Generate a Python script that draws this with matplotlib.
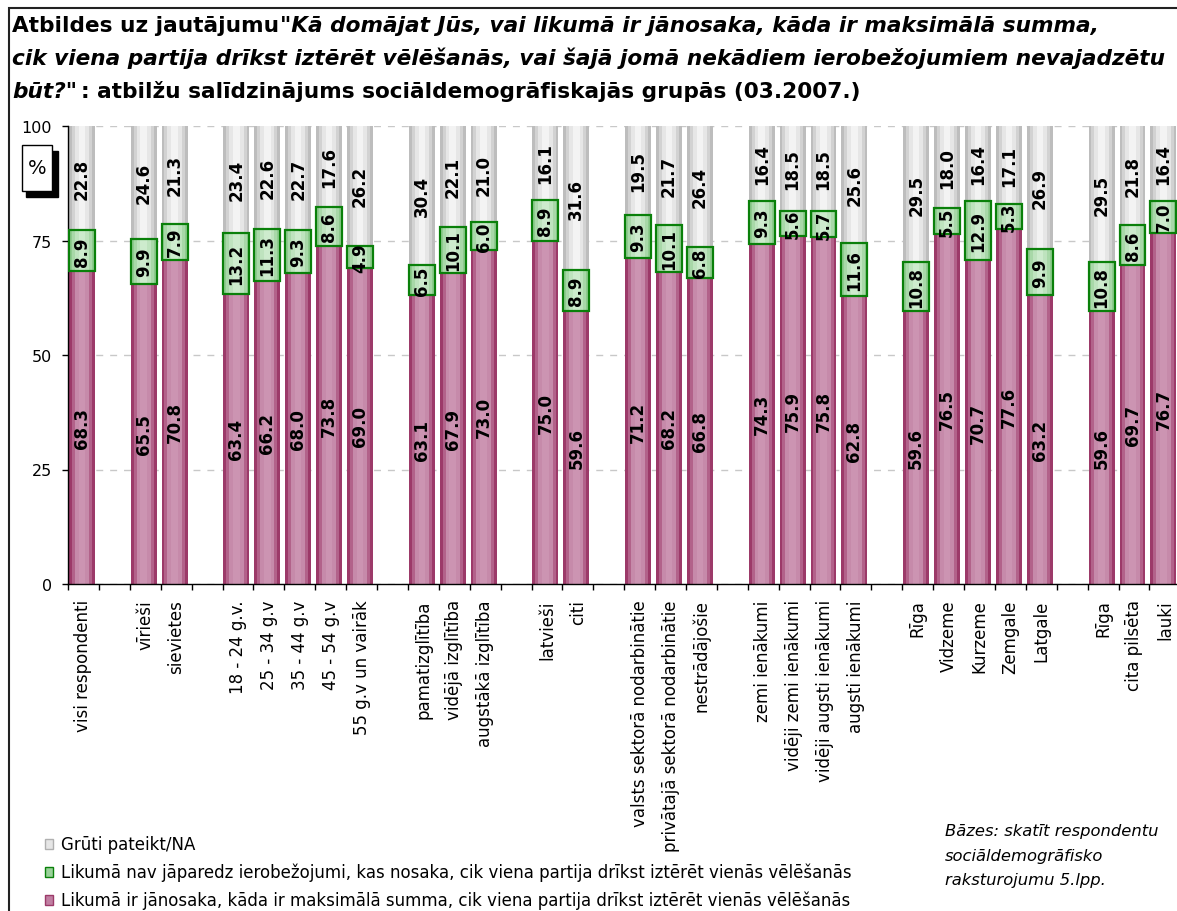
import matplotlib
matplotlib.use("Agg")
import matplotlib.pyplot as plt
from matplotlib.patches import Rectangle
import numpy as np

plt.rcParams['font.family'] = ['DejaVu Sans']

# ---------------- data ----------------
categories = ["visi respondenti",
              "vīrieši", "sievietes",
              "18 - 24 g.v.", "25 - 34 g.v", "35 - 44 g.v", "45 - 54 g.v", "55 g.v un vairāk",
              "pamatizglītība", "vidējā izglītība", "augstākā izglītība",
              "latvieši", "citi",
              "valsts sektorā nodarbinātie", "privātajā sektorā nodarbinātie", "nestrādājošie",
              "zemi ienākumi", "vidēji zemi ienākumi", "vidēji augsti ienākumi", "augsti ienākumi",
              "Rīga", "Vidzeme", "Kurzeme", "Zemgale", "Latgale",
              "Rīga", "cita pilsēta", "lauki"]
group_sizes = [1, 2, 5, 3, 2, 3, 4, 5, 3]

law_limit = [68.3, 65.5, 70.8, 63.4, 66.2, 68.0, 73.8, 69.0, 63.1, 67.9, 73.0, 75.0, 59.6,
             71.2, 68.2, 66.8, 74.3, 75.9, 75.8, 62.8, 59.6, 76.5, 70.7, 77.6, 63.2, 59.6, 69.7, 76.7]
no_limits = [8.9, 9.9, 7.9, 13.2, 11.3, 9.3, 8.6, 4.9, 6.5, 10.1, 6.0, 8.9, 8.9,
             9.3, 10.1, 6.8, 9.3, 5.6, 5.7, 11.6, 10.8, 5.5, 12.9, 5.3, 9.9, 10.8, 8.6, 7.0]
hard_to_say = [22.8, 24.6, 21.3, 23.4, 22.6, 22.7, 17.6, 26.2, 30.4, 22.1, 21.0, 16.1, 31.6,
               19.5, 21.7, 26.4, 16.4, 18.5, 18.5, 25.6, 29.5, 18.0, 16.4, 17.1, 26.9, 29.5, 21.8, 16.4]

series_labels = ["Grūti pateikt/NA",
                 "Likumā nav jāparedz ierobežojumi, kas nosaka, cik viena partija drīkst iztērēt vienās vēlēšanās",
                 "Likumā ir jānosaka, kāda ir maksimālā summa, cik viena partija drīkst iztērēt vienās vēlēšanās"]

title_parts = [
    [("Atbildes uz jautājumu", "normal"),
     ("\"Kā domājat Jūs, vai likumā ir jānosaka, kāda ir maksimālā summa,", "italic")],
    [("cik viena partija drīkst iztērēt vēlēšanās, vai šajā jomā nekādiem ierobežojumiem nevajadzētu", "italic")],
    [("būt?\"", "italic"),
     (": atbilžu salīdzinājums sociāldemogrāfiskajās grupās (03.2007.)", "normal")],
]
note_lines = ["Bāzes: skatīt respondentu", "sociāldemogrāfisko", "raksturojumu 5.lpp."]

# ---------------- layout ----------------
pos = []
slot = 0
for g in group_sizes:
    for _ in range(g):
        pos.append(slot)
        slot += 1
    slot += 1
n_slots = slot - 1
pos = np.array(pos, dtype=float)

law = np.array(law_limit)
nol = np.array(no_limits)
hts = np.array(hard_to_say)

W, H = 1177, 912
fig = plt.figure(figsize=(W / 100, H / 100), dpi=100)
fig.patch.set_facecolor('white')
slot_px = 30.9
ax = fig.add_axes([68 / W, 1 - 585 / H, n_slots * slot_px / W, 458 / H])
ax.set_xlim(-0.5, n_slots - 0.5)
ax.set_ylim(0, 100)

bw = 0.84
xb = pos - 0.05


def shaded(vals, bottom, cols, fracs):
    first = None
    for c, f in zip(cols, fracs):
        b = ax.bar(xb, vals, bw * f, bottom=bottom, color=c, linewidth=0, zorder=2)
        if first is None:
            first = b
    return first


pink = shaded(law, 0, ['#9C3A69', '#B2628A', '#C68AAA', '#CC94B2'], [1.0, 0.78, 0.55, 0.25])
green = shaded(nol, law, ['#8ECB8E', '#A8D8A8', '#BEE3BE', '#CDEBCD'], [1.0, 0.78, 0.55, 0.25])
ax.bar(xb, nol, bw, bottom=law, fill=False, edgecolor='#0A800A', linewidth=1.6, zorder=3)
gray = shaded(hts, law + nol, ['#BDBDBD', '#D2D2D2', '#E6E6E6', '#F3F3F3'], [1.0, 0.78, 0.55, 0.25])

for bars, vals in ((pink, law), (green, nol), (gray, hts)):
    ax.bar_label(bars, labels=[f"{v:.1f}" for v in vals], label_type='center',
                 rotation=90, fontsize=12, fontweight='bold', color='black', zorder=5)

# axes styling
ax.set_yticks([0, 25, 50, 75, 100])
ax.yaxis.grid(True, linestyle=(0, (5, 5)), color='#C8C8C8', linewidth=1)
ax.set_axisbelow(True)
for s in ('top', 'right'):
    ax.spines[s].set_visible(False)
ax.spines['left'].set_linewidth(1.0)
ax.spines['bottom'].set_linewidth(1.0)
ax.tick_params(axis='y', direction='out', length=4.5, width=1, labelsize=11.5, pad=7)
ax.set_xticks(pos)
ax.set_xticklabels(categories, rotation=90, fontsize=12, va='top', ha='center')
ax.tick_params(axis='x', which='major', length=0, pad=11)
ax.set_xticks(np.arange(-0.5, n_slots, 1.0), minor=True)
ax.tick_params(axis='x', which='minor', direction='out', length=4.5, width=1)

# % box
fig.patches.append(Rectangle((26 / W, 1 - 198 / H), 32 / W, 46 / H, transform=fig.transFigure,
                             facecolor='black', edgecolor='black', zorder=5))
fig.patches.append(Rectangle((22 / W, 1 - 192 / H), 30 / W, 46 / H, transform=fig.transFigure,
                             facecolor='white', edgecolor='black', linewidth=1, zorder=6))
fig.text(37 / W, 1 - 168 / H, "%", fontsize=14, ha='center', va='center', zorder=7)

# border
fig.patches.append(Rectangle((9 / W, -0.05), 1.2, 1 - 9 / H + 0.05, transform=fig.transFigure,
                             fill=False, edgecolor='#222222', linewidth=1.5, zorder=10))

# title: fit the long second line to the frame width
renderer = fig.canvas.get_renderer()
probe = fig.text(0, 0, title_parts[1][0][0], fontsize=14, fontweight='bold', style='italic')
pw = probe.get_window_extent(renderer).width
probe.remove()
tsize = 14 * (1158 / pw)
baselines = [32, 65, 98]
for parts, yb in zip(title_parts, baselines):
    x = 12
    for k, (txt, st) in enumerate(parts):
        t = fig.text(x / W, 1 - yb / H, txt, fontsize=tsize, fontweight='bold', style=st,
                     ha='left', va='baseline')
        bb = t.get_window_extent(renderer)
        x = bb.x1 + (4 if st == 'italic' else 1)

# legend
leg_cols = [('#E6E6E6', '#B0B0B0'), ('#9AD29A', '#0A800A'), ('#C07FA2', '#9C3A69')]
for i, (lab, (fc, ec)) in enumerate(zip(series_labels, leg_cols)):
    yc = 845 + i * 28
    fig.patches.append(Rectangle((45 / W, 1 - (yc + 5) / H), 8 / W, 10 / H, transform=fig.transFigure,
                                 facecolor=fc, edgecolor=ec, linewidth=1))
    fig.text(61 / W, 1 - yc / H, lab, fontsize=12, ha='left', va='center')

# notes
for i, line in enumerate(note_lines):
    fig.text(945 / W, 1 - (832 + i * 24.5) / H, line, fontsize=11.8, style='italic',
             ha='left', va='center')

fig.savefig("out.png", dpi=100)
